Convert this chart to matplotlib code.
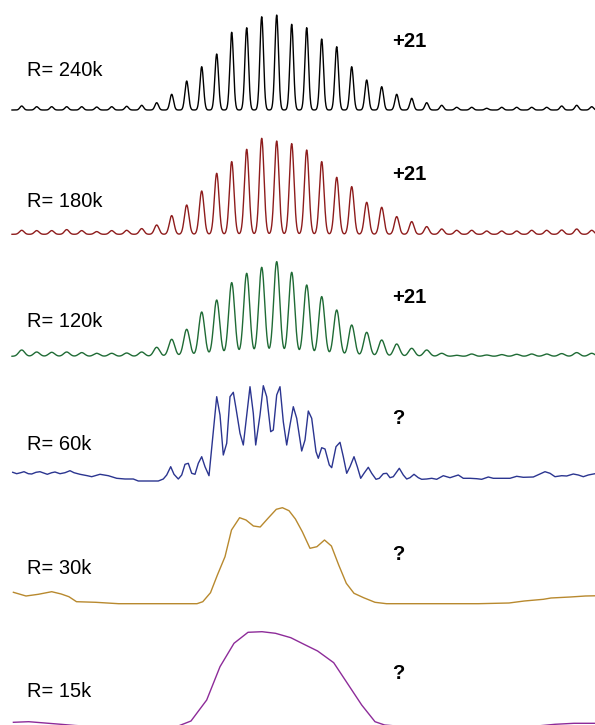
import matplotlib.pyplot as plt
import numpy as np

plt.rcParams['font.family'] = ['Liberation Sans', 'DejaVu Sans']

#####################################################################
# isotope envelope of the +21 ion (x in channels, 15 channels per isotope)
iso_first = 9.7
iso_step = 15.0

# isotope peak heights at the three highest resolutions
h_240k = [4.0, 3.3, 3.3, 3.3, 3.3, 3.0, 3.3, 3.7, 4.7, 7.3,
          15.7, 29.0, 43.3, 56.0, 77.7, 82.3, 93.3, 95.0, 85.7, 82.3,
          71.0, 63.3, 43.3, 30.0, 23.3, 15.7, 11.7, 7.3, 4.7, 2.7,
          2.7, 1.7, 2.7, 2.7, 2.7, 2.7, 4.0, 4.7, 3.3]
h_180k = [4.0, 3.7, 3.7, 4.7, 3.7, 2.7, 3.7, 4.0, 5.7, 9.3,
          18.7, 29.3, 43.3, 61.0, 72.7, 85.0, 96.0, 93.3, 90.7, 84.3,
          72.7, 57.0, 47.7, 32.0, 27.0, 17.7, 12.7, 7.7, 5.3, 4.0,
          4.0, 3.3, 3.3, 3.3, 4.0, 4.0, 4.3, 5.3, 4.0]
h_120k = [6.3, 4.3, 4.0, 4.3, 3.7, 3.0, 3.0, 3.3, 4.3, 9.0,
          17.0, 27.0, 44.3, 56.3, 73.7, 83.0, 89.0, 94.7, 84.0, 71.3,
          59.7, 46.3, 31.3, 24.0, 16.3, 12.3, 8.0, 6.3, 3.0, 1.0,
          2.3, 1.3, 1.7, 2.0, 2.3, 2.3, 2.7, 3.7, 3.0]

# peak width (sigma, channels) for each resolution
sigma_240k = 1.8
sigma_180k = 2.3
sigma_120k = 3.0

#####################################################################
# lower resolutions: measured profile points
x_60k = [0.7, 4.7, 8.7, 12, 16.3, 19.7, 24, 28, 32.3, 35.3, 39.7, 43, 48, 53, 58, 62,
         68, 75.3, 79.7, 88, 96.3, 104.7, 113, 121.3, 126.3, 146.3, 151.3, 154.7,
         158.7, 162, 166.3, 169.7, 173, 176.3, 179.7, 183, 186.3, 189.7, 193, 197,
         200.3, 204.7, 208, 211.3, 214.7, 218, 221.3, 224, 228, 231.3, 234.7, 238,
         241.3, 243.7, 248, 251.3, 254.7, 258.7, 261.3, 264.7, 268, 271.3, 274.7,
         278, 281.3, 284.7, 289.7, 293, 296.3, 299.7, 304, 306.3, 309.7, 313,
         317.3, 319.7, 324, 328, 331.3, 334.7, 338, 342, 345.3, 348.7, 352, 356.3,
         359.7, 364, 367.3, 371.3, 374.7, 378, 381.3, 387.3, 391.3, 394.7, 398,
         402, 406.3, 409.7, 414.7, 419.7, 424.7, 431.3, 438, 446.3, 451.3, 458,
         464.7, 469.7, 476.3, 481.3, 488, 498, 504.7, 511.3, 521.3, 528, 533, 538,
         543, 549.7, 554.7, 561.3, 566.3, 571.3, 576.3, 583]
y_60k = [8.7, 7.3, 8.3, 9.3, 7.3, 7.0, 8.7, 9.3, 7.7, 6.7, 8.3, 9.0, 7.3, 8.3, 10.3, 8.3,
         6.7, 5.3, 4.3, 6.7, 5.3, 2.7, 2.0, 2.0, 0.0, 0.0, 2.0, 6.0,
         14.3, 6.7, 2.0, 6.0, 16.7, 17.7, 7.7, 6.7, 17.7, 24.3, 14.3, 5.3,
         39.3, 84.3, 66.0, 26.0, 37.7, 84.3, 88.7, 72.7, 47.7, 36.0, 66.0, 94.3,
         67.7, 36.0, 66.0, 95.3, 84.3, 49.3, 51.0, 86.0, 94.3, 59.3, 36.0,
         56.0, 74.3, 62.7, 30.0, 41.0, 70.0, 62.7, 29.3, 22.7, 33.3, 32.0,
         16.0, 13.3, 34.3, 38.7, 24.3, 7.7, 14.3, 24.3, 14.3, 2.7, 7.7, 13.7,
         7.7, 1.7, 2.7, 7.3, 7.7, 3.3, 4.3, 12.7, 6.0, 2.0, 3.3,
         6.7, 3.3, 1.7, 2.0, 2.7, 1.7, 5.3, 3.3, 6.0, 2.7, 2.7,
         2.3, 1.7, 4.0, 2.7, 2.7, 2.7, 4.7, 3.7, 4.0, 7.0, 9.3, 7.7,
         4.3, 5.3, 5.0, 7.0, 6.0, 4.3, 6.0, 7.3]

x_30k = [1.4, 14, 26.3, 39.7, 49.2, 56.9, 64.5, 83.7, 106.6, 185, 190.8, 198.5,
         205.4, 213, 219.5, 227.6, 234, 241.4, 248.2, 256, 264.3, 270.4, 277,
         283.4, 290.3, 298, 304.9, 312.5, 319.4, 326.7, 334.3, 342, 351.6, 363,
         374.5, 466.4, 497, 512.3, 531.4, 539, 558.2, 573.5, 583]
y_30k = [11.4, 7.7, 9.4, 12.0, 9.7, 7.0, 2.0, 1.4, 0.0, 0.0, 2.0, 11.0,
         28.7, 47.0, 73.7, 86.0, 83.7, 77.7, 76.7, 85.4, 94.4, 96.0, 93.0,
         84.7, 72.0, 55.4, 57.0, 63.7, 57.7, 38.7, 20.4, 10.4, 6.0, 1.4,
         0.0, 0.0, 0.7, 2.7, 4.4, 5.7, 6.7, 7.7, 7.9]

x_15k = [1.4, 16.7, 49, 63, 80, 165, 179, 194.7, 208, 222, 236, 250, 263.5,
         278.8, 292, 305.6, 321.7, 334.3, 349.7, 363, 372.6, 390, 520, 543,
         562, 583]
y_15k = [4.2, 4.8, 2.2, 1.0, 0.0, 0.0, 5.5, 26.5, 59.8, 83.2, 94.2, 94.8, 93.2,
         88.8, 82.2, 75.5, 63.8, 44.8, 21.5, 4.8, 1.5, 0.0, 0.0, 2.2,
         3.2, 3.2]

#####################################################################
# panel texts and colours
res_labels = ['R= 240k', 'R= 180k', 'R= 120k', 'R= 60k', 'R= 30k', 'R= 15k']
charge_labels = ['+21', '+21', '+21', '?', '?', '?']
colors = ['#000000', '#8e1c1c', '#1f6b35', '#2b3590', '#b8892e', '#8d2b99']

# layout in pixels: trace baseline, label baselines
W, H = 595, 725
base_px = [110, 234.3, 356.3, 481, 603.7, 726.5]
res_y_px = [76.3, 206.7, 327.3, 450, 574.3, 696.7]
charge_y_px = [46.7, 180, 302.7, 424.3, 560, 679]


def envelope(x, heights, sigma):
    # sum of gaussian peaks over the isotope positions
    centers = iso_first + iso_step * np.arange(len(heights))
    y = np.zeros_like(x)
    for c, h in zip(centers, heights):
        y += h * np.exp(-(x - c) ** 2 / (2 * sigma ** 2))
    return y


xx = np.linspace(0, 583, 3000)
traces = [
    (xx, envelope(xx, h_240k, sigma_240k)),
    (xx, envelope(xx, h_180k, sigma_180k)),
    (xx, envelope(xx, h_120k, sigma_120k)),
    (x_60k, y_60k),
    (x_30k, y_30k),
    (x_15k, y_15k),
]

#####################################################################
fig = plt.figure(figsize=(W / 100, H / 100), dpi=100)

for i, (x, y) in enumerate(traces):
    ax = fig.add_axes([12 / W, (H - base_px[i]) / H, 583 / W, 100 / H])
    ax.plot(x, y, color=colors[i], lw=1.0, clip_on=False)
    ax.set_xlim(0, 583)
    ax.set_ylim(0, 100)
    ax.set_axis_off()

    fig.text(27 / W, 1 - res_y_px[i] / H, res_labels[i], fontsize=14.5,
             ha='left', va='baseline')
    fig.text(392 / W, 1 - charge_y_px[i] / H, charge_labels[i], fontsize=14.5,
             fontweight='bold', ha='left', va='baseline')

fig.savefig('out.png', dpi=100)
